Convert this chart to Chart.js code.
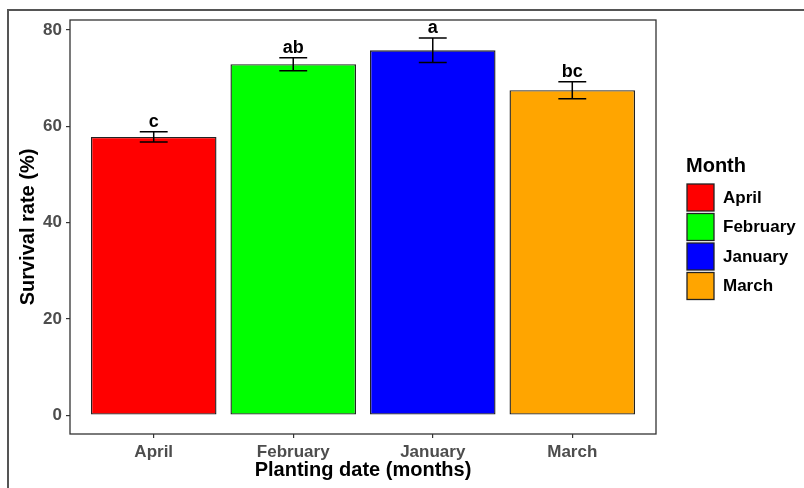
<!DOCTYPE html>
<html><head><meta charset="utf-8">
<script src="https://cdn.jsdelivr.net/npm/chart.js@4"></script>
<style>
html,body{margin:0;padding:0;background:#fff;}
#wrap{position:relative;width:804px;height:488px;overflow:hidden;}
#frame{position:absolute;left:7px;top:9px;right:-5px;bottom:-5px;border-left:2px solid #555;border-top:2px solid #555;pointer-events:none;}
canvas{display:block;}
</style></head><body>
<div id="wrap"><canvas id="c" width="804" height="488"></canvas><div id="frame"></div></div>
<script>
const categories = ['April', 'February', 'January', 'March'];
const survival = [57.8, 72.9, 75.8, 67.5];
const stdErr = [1.05, 1.35, 2.55, 1.75];
const groupLetters = ['c', 'ab', 'a', 'bc'];
const barColors = ['#FF0000', '#00FF00', '#0000FF', '#FFA500'];
const yTicks = [0, 20, 40, 60, 80];
const legendTitle = 'Month';
const xTitle = 'Planting date (months)';
const yTitle = 'Survival rate (%)';

const FONT = '"Liberation Sans", Arial, sans-serif';

const panelBorder = {
  id: 'panelBorder',
  afterDraw(chart) {
    const {ctx, chartArea: a} = chart;
    ctx.save();
    ctx.strokeStyle = '#333';
    ctx.lineWidth = 1.3;
    ctx.strokeRect(a.left, a.top, a.right - a.left, a.bottom - a.top);
    ctx.restore();
  }
};

const errorBars = {
  id: 'errorBars',
  afterDatasetsDraw(chart) {
    const {ctx} = chart;
    const xs = chart.scales.x, ys = chart.scales.y;
    ctx.save();
    ctx.strokeStyle = '#000';
    ctx.lineWidth = 1.5;
    categories.forEach((c, i) => {
      const cx = xs.getPixelForValue(i + 1);
      const hw = xs.getPixelForValue(i + 1.1) - cx;
      const top = ys.getPixelForValue(survival[i] + stdErr[i]);
      const bot = ys.getPixelForValue(survival[i] - stdErr[i]);
      ctx.beginPath();
      ctx.moveTo(cx - hw, top); ctx.lineTo(cx + hw, top);
      ctx.moveTo(cx - hw, bot); ctx.lineTo(cx + hw, bot);
      ctx.moveTo(cx, top); ctx.lineTo(cx, bot);
      ctx.stroke();
      ctx.fillStyle = '#000';
      ctx.font = 'bold 18px ' + FONT;
      ctx.textAlign = 'center';
      ctx.textBaseline = 'alphabetic';
      ctx.fillText(groupLetters[i], cx, top - 5);
    });
    ctx.restore();
  }
};

const sideLegend = {
  id: 'sideLegend',
  afterDraw(chart) {
    const {ctx, chartArea: a} = chart;
    const x0 = a.right + 31;
    ctx.save();
    ctx.fillStyle = '#000';
    ctx.font = 'bold 20px ' + FONT;
    ctx.textAlign = 'left';
    ctx.textBaseline = 'alphabetic';
    ctx.fillText(legendTitle, x0 - 1, 172);
    categories.forEach((c, i) => {
      const y = 184 + i * 29.5;
      ctx.fillStyle = barColors[i];
      ctx.fillRect(x0, y, 27, 27);
      ctx.strokeStyle = '#222';
      ctx.lineWidth = 1.3;
      ctx.strokeRect(x0, y, 27, 27);
      ctx.fillStyle = '#000';
      ctx.font = 'bold 17px ' + FONT;
      ctx.textBaseline = 'middle';
      ctx.fillText(c, x0 + 36, y + 14);
    });
    ctx.restore();
  }
};

new Chart(document.getElementById('c'), {
  type: 'bar',
  data: {
    datasets: [{
      data: categories.map((c, i) => ({x: i + 1, y: survival[i]})),
      backgroundColor: barColors,
      borderColor: '#222',
      borderWidth: 1.4,
      borderSkipped: false,
      barPercentage: 0.9,
      categoryPercentage: 1.0
    }]
  },
  options: {
    responsive: false,
    maintainAspectRatio: false,
    animation: false,
    devicePixelRatio: 1,
    layout: {padding: {top: 20, right: 148, left: 0, bottom: 0}},
    plugins: {legend: {display: false}, tooltip: {enabled: false}},
    scales: {
      x: {
        type: 'linear',
        offset: false,
        min: 0.4, max: 4.6,
        afterBuildTicks: s => { s.ticks = categories.map((c, i) => ({value: i + 1})); },
        afterFit: s => { s.height = 54; },
        ticks: {
          callback: v => categories[Math.round(v) - 1],
          color: '#4d4d4d',
          font: {family: FONT, size: 17, weight: 'bold'},
          padding: 4,
          maxRotation: 0, autoSkip: false
        },
        grid: {display: true, offset: false, drawOnChartArea: false, drawTicks: true, tickLength: 4, color: '#333', lineWidth: 1.2},
        border: {display: false},
        title: {display: true, text: xTitle, color: '#000', font: {family: FONT, size: 20, weight: 'bold'}, padding: {top: 0, bottom: 6}}
      },
      y: {
        min: -3.9, max: 82.08,
        afterBuildTicks: s => { s.ticks = yTicks.map(v => ({value: v})); },
        afterFit: s => { s.width = 70; },
        ticks: {
          color: '#4d4d4d',
          font: {family: FONT, size: 17, weight: 'bold'},
          padding: 4
        },
        grid: {display: true, drawOnChartArea: false, drawTicks: true, tickLength: 4, color: '#333', lineWidth: 1.2},
        border: {display: false},
        title: {display: true, text: yTitle, color: '#000', font: {family: FONT, size: 20, weight: 'bold'}, padding: {top: 16, bottom: 0}}
      }
    }
  },
  plugins: [panelBorder, errorBars, sideLegend]
});
</script>
</body></html>
